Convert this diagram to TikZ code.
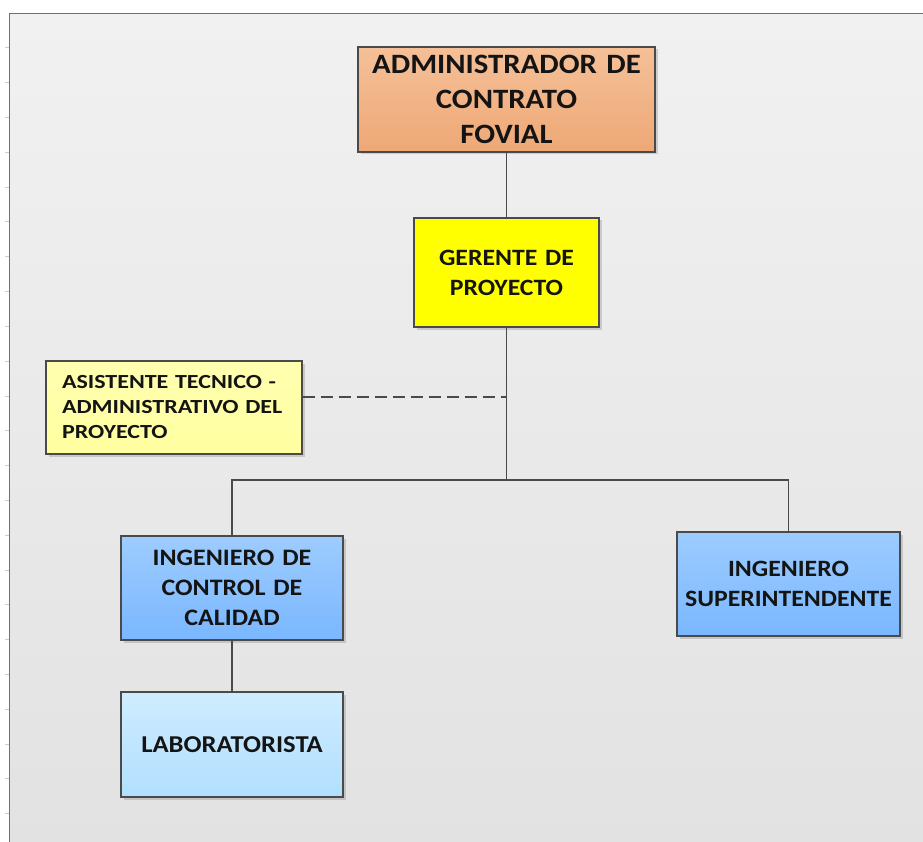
\documentclass[tikz,border=0pt]{standalone}
\usepackage{fontspec}
\setmainfont{Carlito}[FakeStretch=1.1]
\newfontfamily\asisfont{Carlito}[FakeStretch=1.2]
\usetikzlibrary{shadows}
\definecolor{framegray}{HTML}{707070}
\definecolor{linegray}{HTML}{4A4A4A}
\definecolor{txt}{HTML}{141414}
\newcommand{\ind}{\hspace*{8pt}}
\begin{document}
\begin{tikzpicture}[x=1pt,y=-1pt,
  orgbox/.style={draw=linegray, line width=1.2pt, inner sep=0pt, align=center,
    text=txt, font=\bfseries, drop shadow={shadow xshift=2.5pt, shadow yshift=-2.5pt, opacity=0.25, fill=black!60}},
  conn/.style={draw=linegray, line width=1.2pt},
  tick/.style={draw=black!20, line width=1pt}]
\useasboundingbox (0,0) rectangle (923,842);
\fill[white] (0,0) rectangle (923,842);
% frame with gradient
\shade[top color={rgb,255:red,241;green,241;blue,241}, bottom color={rgb,255:red,226;green,226;blue,226}]
  (9.5,13.5) rectangle (930,850);
\draw[framegray, line width=1.5pt] (930,13.5) -- (9.5,13.5) -- (9.5,850);
% left ruler ticks
\foreach \k in {0,...,22} {
  \draw[tick] (5,{48+34.8*\k}) -- (8.5,{48+34.8*\k});
}
% nodes
\node[orgbox, minimum width=297pt, minimum height=105pt, text width=290pt,
  top color={rgb,255:red,245;green,192;blue,152}, bottom color={rgb,255:red,238;green,168;blue,118},
  font=\bfseries\fontsize{28}{35}\selectfont] (admin) at (506.5,99.5)
  {ADMINISTRADOR DE\\CONTRATO\\FOVIAL};
\node[orgbox, minimum width=185pt, minimum height=109pt, text width=180pt,
  fill={rgb,255:red,255;green,255;blue,0},
  font=\bfseries\fontsize{23.4}{30}\selectfont] (ger) at (506.5,272.5)
  {GERENTE DE\\PROYECTO};
\node[orgbox, minimum width=256pt, minimum height=93pt, text width=240pt, align=left,
  top color={rgb,255:red,255;green,255;blue,176}, bottom color={rgb,255:red,255;green,255;blue,160},
  font=\asisfont\bfseries\fontsize{20}{25}\selectfont] (asis) at (174,407.5)
  {\ind ASISTENTE TECNICO -\\\ind ADMINISTRATIVO DEL\\\ind PROYECTO};
\node[orgbox, minimum width=222pt, minimum height=104pt, text width=216pt,
  top color={rgb,255:red,157;green,204;blue,255}, bottom color={rgb,255:red,122;green,183;blue,255},
  font=\bfseries\fontsize{23.6}{30}\selectfont] (ctrl) at (232,588)
  {INGENIERO DE\\CONTROL DE\\CALIDAD};
\node[orgbox, minimum width=222pt, minimum height=105pt, text width=216pt,
  top color={rgb,255:red,206;green,236;blue,255}, bottom color={rgb,255:red,178;green,223;blue,255},
  font=\bfseries\fontsize{24.2}{30}\selectfont] (lab) at (232,744.5)
  {LABORATORISTA};
\node[orgbox, minimum width=223pt, minimum height=104pt, text width=218pt,
  top color={rgb,255:red,157;green,204;blue,255}, bottom color={rgb,255:red,122;green,183;blue,255},
  font=\bfseries\fontsize{23.4}{30}\selectfont] (sup) at (788.5,584)
  {INGENIERO\\SUPERINTENDENTE};
% connectors
\coordinate (dj) at (506.5,397);
\coordinate (jn) at (506.5,480);
\draw[conn] (admin.south) -- (ger.north);
\draw[conn] (ger.south) -- (jn);
\draw[conn, dash pattern=on 12pt off 6pt] (asis.east |- dj) -- (dj);
\draw[conn] (ctrl.north) -- (ctrl.north |- jn) -- (sup.north |- jn) -- (sup.north);
\draw[conn] (ctrl.south) -- (lab.north);
\end{tikzpicture}
\end{document}
